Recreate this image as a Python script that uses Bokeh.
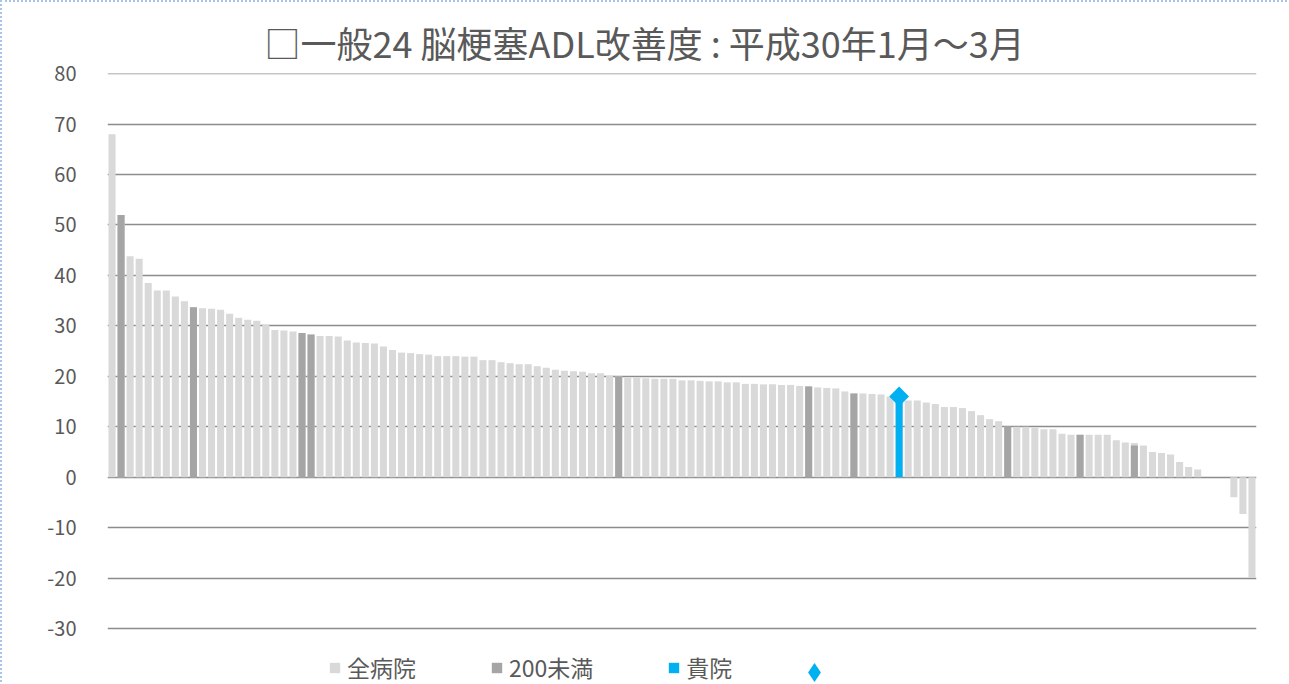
import numpy as np
from bokeh.plotting import figure
from bokeh.models import Range1d, FixedTicker, Legend, LegendItem
from bokeh.embed import file_html
from bokeh.resources import INLINE

title_text = "□一般24 脳梗塞ADL改善度 : 平成30年1月～3月"

# all hospitals, sorted descending
all_hosp = [
    68.0, 52.0, 43.8, 43.3, 38.5, 37.0, 37.0, 35.8, 34.9, 33.7,
    33.5, 33.4, 33.2, 32.4, 31.6, 31.2, 31.0, 30.2, 29.2, 29.1,
    28.9, 28.6, 28.3, 28.0, 28.0, 27.9, 27.1, 26.7, 26.6, 26.5,
    25.9, 25.2, 24.7, 24.6, 24.4, 24.3, 24.0, 24.0, 24.0, 23.9,
    23.9, 23.2, 23.2, 22.8, 22.6, 22.4, 22.4, 22.0, 21.7, 21.3,
    21.1, 21.0, 20.9, 20.6, 20.6, 20.1, 20.0, 19.7, 19.7, 19.6,
    19.5, 19.5, 19.5, 19.2, 19.2, 19.1, 19.0, 19.0, 18.8, 18.8,
    18.5, 18.5, 18.4, 18.4, 18.3, 18.3, 18.1, 18.0, 17.8, 17.7,
    17.6, 17.0, 16.6, 16.6, 16.5, 16.4, 16.0, 16.0, 15.2, 15.2,
    14.8, 14.5, 13.9, 13.9, 13.7, 13.1, 12.3, 11.5, 11.1, 10.0,
    10.0, 10.0, 9.8, 9.5, 9.5, 8.6, 8.4, 8.4, 8.4, 8.4,
    8.4, 7.3, 6.9, 6.8, 6.3, 5.0, 4.8, 4.5, 3.0, 2.0,
    1.5, 0.0, 0.0, 0.0, -4.0, -7.3, -20.0,
]
ranks = list(range(1, len(all_hosp) + 1))

# hospitals with fewer than 200 beds (rank, value)
under200_ranks = [2, 10, 22, 23, 57, 78, 83, 100, 108, 114]
under200_vals = [52.0, 33.7, 28.6, 28.3, 20.0, 18.0, 16.6, 10.0, 8.4, 6.3]

# own hospital
own_rank = [88]
own_val = [16.0]

y_ticks = [-30, -20, -10, 0, 10, 20, 30, 40, 50, 60, 70, 80]
y_tick_labels = ["-30", "-20", "-10", "0", "10", "20", "30", "40", "50", "60", "70", "80"]
legend_labels = ["全病院", "200未満", "貴院", " "]

LIGHT = "#D9D9D9"
DARK = "#A5A5A5"
BLUE = "#00B0F0"
TXT = "#595959"
GRID = "#8C8C8C"
FONT = "Noto Sans CJK JP"

# the plotting frame runs down to the bottom edge so the legend can sit inside it;
# only ticks -30..80 get labels and grid lines
p = figure(width=1287, height=682, output_backend="svg", toolbar_location=None,
           x_range=Range1d(0.5, len(all_hosp) + 0.5), y_range=Range1d(-41.1, 80.03),
           min_border_left=105, min_border_right=33, min_border_top=71, min_border_bottom=0)
p.styles = {"border-left": "2px dotted #A9C4E8", "border-top": "2px dotted #A9C4E8"}

p.title.text = title_text
p.title.text_font = FONT
p.title.text_font_size = "36px"
p.title.text_font_style = "normal"
p.title.text_color = TXT
p.title.align = "left"
p.title.offset = 157
p.title.standoff = 12

r_all = p.vbar(x=ranks, top=all_hosp, bottom=0, width=0.78, fill_color=LIGHT, line_color=None)
r_200 = p.vbar(x=under200_ranks, top=under200_vals, bottom=0, width=0.78, fill_color=DARK, line_color=None)
r_own = p.vbar(x=own_rank, top=own_val, bottom=0, width=0.78, fill_color=BLUE, line_color=None)
# diamond marker (used for the legend sample; hidden under the rotated square below)
r_dia = p.scatter(x=own_rank, y=own_val, marker="diamond", size=16,
                  fill_color=BLUE, line_color=None)
p.scatter(x=own_rank, y=own_val, marker="square", angle=np.pi / 4, size=14,
          fill_color=BLUE, line_color=None)

p.xaxis.visible = False
p.xgrid.visible = False
p.yaxis.ticker = FixedTicker(ticks=y_ticks)
p.yaxis.major_label_overrides = dict(zip(y_ticks, y_tick_labels))
p.yaxis.axis_line_color = None
p.yaxis.major_tick_line_color = None
p.yaxis.minor_tick_line_color = None
p.yaxis.major_label_text_font = FONT
p.yaxis.major_label_text_font_size = "20px"
p.yaxis.major_label_text_color = TXT
p.yaxis.major_label_standoff = 25
p.ygrid.ticker = FixedTicker(ticks=y_ticks)
p.ygrid.grid_line_color = GRID
p.ygrid.grid_line_width = 1.6
p.outline_line_color = None

common = dict(orientation="horizontal", label_text_font=FONT, label_text_font_size="23px",
              label_text_color=TXT, label_standoff=6, spacing=74, border_line_color=None,
              background_fill_alpha=0, padding=0, margin=0)

legend = Legend(items=[LegendItem(label=t, renderers=[r]) for t, r in
                       zip(legend_labels[:3], [r_all, r_200, r_own])],
                location=(221, 0), glyph_width=13, glyph_height=13, **common)
p.add_layout(legend, "center")

legend2 = Legend(items=[LegendItem(label=legend_labels[3], renderers=[r_dia])],
                 location=(683, -12), glyph_width=48, glyph_height=48, **common)
p.add_layout(legend2, "center")

open("out.html", "w").write(file_html(p, INLINE))
